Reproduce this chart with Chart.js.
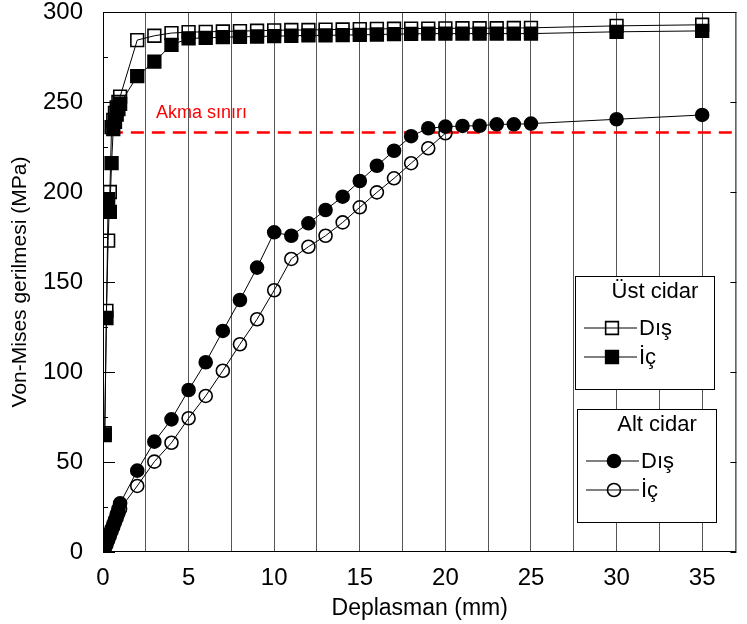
<!DOCTYPE html>
<html>
<head>
<meta charset="utf-8">
<script src="https://cdn.jsdelivr.net/npm/chart.js@4.4.1/dist/chart.umd.min.js"></script>
<style>
    html, body { margin: 0; padding: 0; background: #ffffff; }
    #wrap { width: 747px; height: 624px; }
</style>
</head>
<body>
<div id="wrap"><canvas id="stressChart" width="747" height="624"></canvas></div>
<script>
// Displacement (mm) vs. Von-Mises stress (MPa)
const ustX = [0.1, 0.2, 0.3, 0.4, 0.5, 0.6, 0.7, 0.8, 0.9, 1,
    2, 3, 4, 5, 6, 7, 8, 9, 10, 11, 12, 13, 14, 15, 16, 17, 18, 19, 20, 21, 22, 23, 24, 25,
    30, 35];
const ustDis = [66, 134, 173, 200, 236, 240, 244, 247, 250, 253,
    284.4, 286.8, 288.3, 288.8, 289, 289.2, 289.4, 289.6, 289.8, 290, 290, 290.2, 290.3, 290.5,
    290.6, 290.7, 290.8, 290.8, 290.9, 291, 291, 291, 291.1, 291.2,
    292.3, 292.9];
const ustIc = [65, 130, 196, 189, 216, 235, 239, 243, 246, 249,
    264.4, 272.4, 281.7, 285.3, 285.6, 286, 286.2, 286.4, 286.6, 286.8, 287, 287, 287.2, 287.3,
    287.5, 287.7, 287.8, 288, 288, 288, 288, 288, 288, 288,
    289, 289.5];

const altDisX = [0.05, 0.1, 0.2, 0.3, 0.4, 0.5, 0.6, 0.7, 0.8, 0.9, 1,
    2, 3, 4, 5, 6, 7, 8, 9, 10, 11, 12, 13, 14, 15, 16, 17, 18, 19, 20, 21, 22, 23, 24, 25,
    30, 35];
const altDis = [1, 3, 5.5, 8, 10.5, 13, 15.5, 18, 21, 24, 27,
    45.2, 61.3, 73.7, 90, 105.4, 122.8, 140, 158, 177.6, 175.7, 182.6, 190, 197.4, 206.1,
    214.6, 222.9, 231, 235.4, 236.3, 236.7, 236.8, 237.6, 237.6, 238,
    240.4, 242.8];

const altIcX = [0.05, 0.1, 0.2, 0.3, 0.4, 0.5, 0.6, 0.7, 0.8, 0.9, 1,
    2, 3, 4, 5, 6, 7, 8, 9, 10, 11, 12, 13, 14, 15, 16, 17, 18, 19, 20];
const altIc = [0.5, 2, 4, 6.5, 9, 11.5, 14, 16.5, 19, 21.5, 24,
    36.7, 50.2, 60.7, 74.3, 86.7, 100.7, 115.4, 129.3, 145.4, 162.8, 169.6, 175.7, 183.1,
    191.5, 199.8, 207.6, 216, 224.3, 232.6];

// yield limit line
const akmaX = [0.4, 37];
const akmaSiniri = 233;

const xTickLabels = [0, 5, 10, 15, 20, 25, 30, 35];

const FONT = '"Liberation Sans", Arial, sans-serif';
const OPEN = 'rgba(0,0,0,0)';

function toPoints(xs, ys) {
    return xs.map((x, i) => ({ x: x, y: ys[i] }));
}

function series(xs, ys, style, filled, radius) {
    return {
        data: toPoints(xs, ys),
        showLine: true,
        borderColor: '#000',
        borderWidth: 1,
        pointStyle: style,
        pointRadius: radius,
        pointHoverRadius: radius,
        pointBorderWidth: 1.6,
        pointBorderColor: '#000',
        pointBackgroundColor: filled ? '#000' : OPEN
    };
}

// frame, inward ticks, yield label and the two legend boxes
const decorPlugin = {
    id: 'decor',
    afterDraw(chart) {
        const ctx = chart.ctx;
        const a = chart.chartArea;
        const ys = chart.scales.y;
        ctx.save();

        ctx.strokeStyle = '#000';
        ctx.lineWidth = 1;
        ctx.strokeRect(a.left + 0.5, a.top + 0.5, a.right - a.left - 1, a.bottom - a.top - 1);

        ctx.beginPath();
        for (let v = 0; v <= 300; v += 25) {
            const py = Math.round(ys.getPixelForValue(v)) + 0.5;
            const len = v % 50 === 0 ? 12 : 5;
            ctx.moveTo(a.left, py);
            ctx.lineTo(a.left + len, py);
            if (v % 50 === 0) {
                ctx.moveTo(a.right, py);
                ctx.lineTo(a.right - 6, py);
            }
        }
        ctx.stroke();

        // yield label
        ctx.fillStyle = '#ff0000';
        ctx.font = '18px ' + FONT;
        ctx.textAlign = 'left';
        ctx.textBaseline = 'middle';
        ctx.fillText('Akma sınırı', chart.scales.x.getPixelForValue(3.1), ys.getPixelForValue(244));

        drawLegendBox(ctx, 575, 276, 139, 113, 'Üst cidar', 'rect', 9);
        drawLegendBox(ctx, 577, 409, 139, 113, 'Alt cidar', 'circle', 6.5);
        ctx.restore();
    }
};

function drawLegendBox(ctx, x, y, w, h, title, style, radius) {
    ctx.fillStyle = '#fff';
    ctx.fillRect(x, y, w, h);
    ctx.strokeStyle = '#000';
    ctx.lineWidth = 1;
    ctx.strokeRect(x + 0.5, y + 0.5, w, h);

    ctx.fillStyle = '#000';
    ctx.font = '22px ' + FONT;
    ctx.textAlign = 'center';
    ctx.textBaseline = 'middle';
    ctx.fillText(title, x + 80, y + 16);

    const rows = [
        { label: 'Dış', filled: style === 'circle', dy: 52 },
        { label: 'İç', filled: style !== 'circle', dy: 81 }
    ];
    rows.forEach(r => {
        const ly = y + r.dy;
        ctx.beginPath();
        ctx.moveTo(x + 9, ly);
        ctx.lineTo(x + 62, ly);
        ctx.strokeStyle = '#000';
        ctx.lineWidth = 1;
        ctx.stroke();
        ctx.fillStyle = r.filled ? '#000' : OPEN;
        ctx.lineWidth = 1.6;
        Chart.helpers.drawPoint(ctx, { pointStyle: style, radius: radius, rotation: 0, borderWidth: 1.6 }, x + 37, ly);
        ctx.fillStyle = '#000';
        ctx.textAlign = 'left';
        ctx.fillText(r.label, x + 64, ly + 1);
    });
}

new Chart(document.getElementById('stressChart'), {
    type: 'scatter',
    data: {
        datasets: [
            series(altDisX, altDis, 'circle', true, 6.5),
            series(ustX, ustIc, 'rect', true, 9),
            series(altIcX, altIc, 'circle', false, 6.5),
            series(ustX, ustDis, 'rect', false, 9),
            {
                data: akmaX.map(x => ({ x: x, y: akmaSiniri })),
                showLine: true,
                borderColor: '#ff0000',
                borderWidth: 2.5,
                borderDash: [13, 8],
                pointRadius: 0
            }
        ]
    },
    options: {
        responsive: false,
        animation: false,
        layout: { padding: { top: 12, right: 2, left: 0, bottom: 0 } },
        plugins: {
            legend: { display: false },
            tooltip: { enabled: false }
        },
        scales: {
            x: {
                type: 'linear',
                min: 0,
                max: 37,
                afterFit: s => {
                    s.height = 72;
                    s.paddingLeft = 0;
                    s.paddingRight = 0;
                },
                border: { display: false },
                grid: { color: '#555', lineWidth: 1, drawTicks: false },
                ticks: {
                    stepSize: 2.5,
                    includeBounds: false,
                    autoSkip: false,
                    maxRotation: 0,
                    padding: 12,
                    color: '#000',
                    font: { family: FONT, size: 24 },
                    callback: v => xTickLabels.includes(v) ? String(v) : ''
                },
                title: {
                    display: true,
                    text: 'Deplasman (mm)',
                    color: '#000',
                    font: { family: FONT, size: 23 },
                    padding: { top: 0, bottom: 2 }
                }
            },
            y: {
                min: 0,
                max: 300,
                afterFit: s => {
                    s.width = 103;
                    s.paddingTop = 0;
                    s.paddingBottom = 0;
                },
                border: { display: false },
                grid: { display: false },
                ticks: {
                    stepSize: 50,
                    padding: 12,
                    color: '#000',
                    font: { family: FONT, size: 24 }
                },
                title: {
                    display: true,
                    text: 'Von-Mises gerilmesi (MPa)',
                    color: '#000',
                    font: { family: FONT, size: 21 },
                    padding: { top: 8, bottom: 0 }
                }
            }
        }
    },
    plugins: [decorPlugin]
});
</script>
</body>
</html>
